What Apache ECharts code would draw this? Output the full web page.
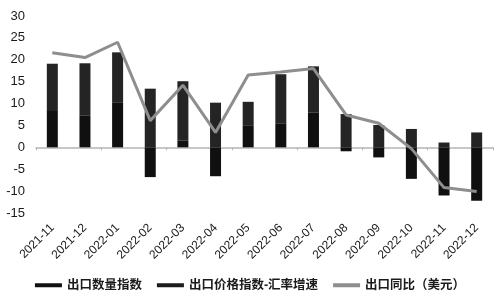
<!DOCTYPE html>
<html>
<head>
<meta charset="utf-8">
<script src="https://cdn.jsdelivr.net/npm/echarts@6/dist/echarts.min.js"></script>
<style>html,body{margin:0;padding:0;background:#fff;}#c{width:500px;height:296px;}</style>
</head>
<body>
<div id="c"></div>
<script>
const categories = ['2021-11','2021-12','2022-01','2022-02','2022-03','2022-04','2022-05','2022-06','2022-07','2022-08','2022-09','2022-10','2022-11','2022-12'];
const quantityIndex = [8.3, 7.2, 10.3, -6.8, 1.5, -6.6, 4.9, 5.5, 8.0, -0.9, -2.3, -7.2, -11.0, -12.2];
const priceMinusFx = [10.8, 12.0, 11.4, 13.4, 13.6, 10.2, 5.5, 11.2, 10.5, 7.6, 5.1, 4.2, 1.1, 3.4];
const exportYoY = [21.6, 20.5, 24.0, 6.1, 14.2, 3.4, 16.5, 17.2, 18.0, 7.4, 5.5, -0.3, -9.2, -10.1];
const seriesNames = ['出口数量指数', '出口价格指数-汇率增速', '出口同比（美元）'];

const font = '"Liberation Sans", Arial, "Noto Sans CJK SC", sans-serif';
const chart = echarts.init(document.getElementById('c'), null, {renderer: 'canvas'});
chart.setOption({
  animation: false,
  backgroundColor: '#fff',
  textStyle: {fontFamily: font},
  grid: {left: 36, right: 7, top: 16, bottom: 83, containLabel: false},
  legend: {
    top: 274,
    left: 'center',
    itemWidth: 27,
    itemHeight: 4,
    itemGap: 15,
    textStyle: {fontSize: 12.5, color: '#1a1a1a', fontFamily: font, fontWeight: 'bold'},
    data: [
      {name: seriesNames[0], icon: 'rect', itemStyle: {color: '#111111'}},
      {name: seriesNames[1], icon: 'rect', itemStyle: {color: '#1c1c1c'}},
      {name: seriesNames[2], icon: 'rect', itemStyle: {color: '#8e8e8e'}}
    ]
  },
  xAxis: [
    {
      type: 'category',
      data: categories,
      position: 'bottom',
      axisLine: {show: true, onZero: true, lineStyle: {color: '#b5b5b5', width: 1.5}},
      axisTick: {show: true, length: 3, lineStyle: {color: '#b5b5b5'}},
      axisLabel: {show: false},
      splitLine: {show: false}
    },
    {
      type: 'category',
      data: categories,
      position: 'bottom',
      axisLine: {show: false, onZero: false},
      axisTick: {show: false},
      axisLabel: {show: true, rotate: 45, interval: 0, fontSize: 12, color: '#1a1a1a', margin: 13, fontFamily: font},
      splitLine: {show: false}
    }
  ],
  yAxis: {
    type: 'value',
    min: -15,
    max: 30,
    interval: 5,
    axisLine: {show: false},
    axisTick: {show: false},
    splitLine: {show: false},
    axisLabel: {fontSize: 13, color: '#1a1a1a', margin: 11, fontFamily: font}
  },
  series: [
    {
      name: seriesNames[0],
      type: 'bar',
      stack: 'total',
      barWidth: 11,
      data: quantityIndex,
      itemStyle: {color: '#101010'}
    },
    {
      name: seriesNames[1],
      type: 'bar',
      stack: 'total',
      barWidth: 11,
      data: priceMinusFx,
      itemStyle: {color: '#242424'}
    },
    {
      name: seriesNames[2],
      type: 'line',
      data: exportYoY,
      showSymbol: false,
      symbol: 'none',
      lineStyle: {color: '#8e8e8e', width: 3},
      itemStyle: {color: '#8e8e8e'},
      z: 5
    }
  ]
});
</script>
</body>
</html>
